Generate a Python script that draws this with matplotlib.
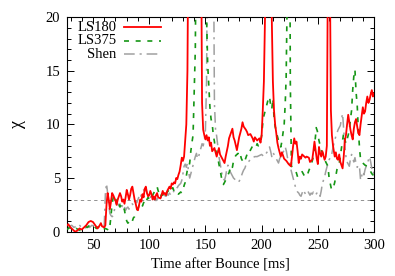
import matplotlib
matplotlib.use("Agg")
import matplotlib.pyplot as plt
from matplotlib.ticker import MultipleLocator

# ---------------- data ----------------
ls180_t = [27, 28, 30, 32, 34, 36, 38, 40, 42, 44, 46, 48, 50, 52, 54, 56, 57, 58, 60, 61,
           62, 63, 64, 65, 66, 67, 68, 70, 71, 72, 74, 75, 76, 77, 78, 79, 80, 81, 82, 83,
           84, 85, 86, 87, 88, 89, 90, 91, 92, 93, 94, 95, 96, 97, 98, 99, 100, 101, 102, 103,
           104, 105, 106, 107, 108, 110, 111, 112, 113, 114, 115, 116, 117, 118, 119, 120, 121, 122, 123, 124,
           125, 126, 127, 128, 129, 130, 131, 132, 133, 134, 135, 146, 147, 148, 149, 150, 151, 152, 153, 154,
           155, 156, 158, 160, 162, 163, 165, 167, 168, 170, 171, 172, 174, 175, 176, 178, 179, 180, 182, 183,
           184, 186, 187, 188, 190, 192, 193, 194, 196, 198, 199, 200, 201, 202, 203, 204, 208, 209, 210, 211,
           212, 213, 214, 215, 217, 218, 220, 222, 224, 226, 227, 228, 229, 230, 231, 232, 233, 234, 235, 236,
           238, 239, 240, 242, 243, 245, 246, 247, 248, 249, 250, 251, 252, 253, 254, 256, 257, 258, 258.7, 259.3,
           260.3, 261, 261.6, 262.5, 263.5, 265, 266, 267, 268, 269, 270, 271, 272, 273, 274, 275, 276, 277, 278, 279,
           280, 281, 282, 283, 284, 285, 286, 287, 288, 289, 290, 291, 292, 293, 294, 295, 296, 297, 298, 299, 300]
ls180_v = [0.6, 0.7, 0.4, 0.2, 0.0, 0.1, 0.3, 0.2, 0.4, 0.6, 0.9, 1.0, 0.9, 0.6, 0.3, 0.6, 0.8, 0.5, 0.4, 0.6,
           2.5, 3.6, 3.0, 2.1, 2.8, 3.6, 3.4, 2.9, 2.5, 3.0, 3.6, 3.3, 2.8, 3.0, 2.6, 3.2, 3.9, 3.5, 3.0, 3.4,
           4.0, 4.2, 3.6, 3.0, 2.6, 2.1, 2.0, 2.5, 3.0, 2.8, 3.5, 3.2, 4.0, 4.2, 3.6, 3.3, 3.4, 3.8, 3.5, 3.0,
           3.3, 3.0, 3.4, 3.6, 3.2, 3.1, 3.4, 3.8, 3.5, 3.6, 3.4, 3.8, 4.0, 4.2, 4.0, 4.5, 4.4, 4.6, 4.5, 5.0,
           4.9, 5.3, 5.6, 6.2, 6.9, 6.6, 7.0, 8.5, 10.0, 15, 30, 30, 12, 9.5, 9.0, 8.6, 9.0, 8.5, 8.8, 8.0,
           8.3, 7.5, 7.8, 7.0, 7.8, 7.2, 6.8, 6.4, 7.0, 8.0, 8.7, 9.0, 9.6, 8.8, 8.5, 7.6, 8.2, 8.8, 9.6, 10.2,
           9.8, 9.5, 9.3, 9.0, 9.1, 8.7, 8.4, 8.8, 8.5, 8.7, 8.3, 9.0, 11.3, 14, 20, 35, 35, 20, 14, 11.3,
           10.0, 9.2, 8.3, 7.8, 7.0, 7.4, 6.8, 6.6, 6.3, 6.1, 7.0, 8.0, 8.7, 8.2, 8.4, 7.5, 6.4, 7.0, 6.8, 7.2,
           7.0, 6.9, 7.0, 6.9, 6.5, 6.7, 7.5, 8.4, 7.6, 6.8, 6.3, 7.9, 7.3, 7.0, 7.5, 6.7, 7.0, 8.0, 20, 40,
           40, 20, 11.3, 9.0, 8.0, 7.0, 7.4, 6.8, 6.7, 7.2, 6.5, 6.2, 5.9, 7.0, 8.5, 9.0, 10.0, 10.9, 10.2, 9.5,
           9.0, 8.6, 9.6, 10.2, 10.5, 9.8, 9.2, 9.0, 10.0, 10.8, 11.6, 11.0, 11.2, 12.0, 12.6, 12.0, 12.3, 12.8, 13.2, 12.6, 12.9]

ls375_t = [27, 29, 31, 33, 35, 37, 39, 41, 43, 45, 47, 49, 51, 53, 55, 57, 59, 61, 63, 64,
           65, 66, 67, 68, 69, 70, 71, 72, 73, 74, 75, 76, 77, 78, 79, 80, 81, 82, 83, 84,
           85, 86, 87, 88, 89, 90, 91, 92, 93, 94, 95, 96, 97, 98, 99, 100, 101, 102, 103, 104,
           105, 106, 107, 108, 109, 110, 111, 112, 113, 114, 115, 116, 117, 118, 119, 120, 121, 122, 123, 124,
           125, 126, 127, 128, 129, 130, 131, 132, 133, 134, 135, 136, 137, 138, 139, 140, 141, 142, 150, 151,
           152, 153, 154, 155, 156, 157, 158, 159, 160, 161, 162, 163, 164, 165, 166, 167, 168, 169, 170, 171,
           172, 173, 174, 175, 176, 177, 178, 179, 180, 181, 182, 183, 184, 185, 186, 187, 188, 189, 190, 191,
           192, 193, 194, 195, 196, 197, 198, 199, 200, 201, 202, 203, 204, 205, 206, 207, 208, 209, 210, 211,
           212, 213, 214, 215, 216, 217, 218, 219, 220, 221, 221.8, 222.5, 223, 225, 225.5, 226, 226.5, 228, 230, 232,
           234, 236, 238, 240, 242, 244, 246, 247, 248, 248.5, 249.5, 251, 253, 255, 257, 259, 260, 261, 262, 263,
           264, 265, 266, 267, 268, 269, 270, 271, 272, 273, 274, 275, 276, 277, 278, 279, 280, 281, 282, 283,
           284, 285, 286, 287, 288, 290, 292, 294, 296, 298, 300]
ls375_v = [0.2, 0.4, 0.2, 0.1, 0.3, 0.2, 0.1, 0.3, 0.5, 0.4, 0.6, 0.7, 0.5, 0.3, 0.5, 0.3, 0.2, 0.3, 0.2, 0.1,
           0.5, 1.5, 2.6, 3.2, 3.4, 3.0, 2.8, 3.1, 2.7, 2.3, 2.5, 2.6, 2.3, 2.0, 1.4, 1.0, 0.8, 0.9, 1.1, 1.2,
           1.0, 1.3, 1.4, 1.6, 2.0, 2.2, 2.4, 2.3, 2.6, 2.4, 2.7, 2.8, 2.6, 3.0, 3.2, 3.0, 3.3, 3.2, 3.4, 3.6,
           3.8, 4.0, 4.2, 3.8, 3.5, 3.2, 3.5, 3.4, 3.6, 3.3, 3.5, 3.7, 3.8, 3.6, 3.9, 4.0, 4.1, 3.8, 3.7, 3.6,
           3.7, 3.5, 3.6, 3.7, 3.6, 3.8, 4.3, 4.6, 5.2, 5.8, 6.0, 6.4, 7.5, 8.3, 9.0, 12.9, 17, 30, 30, 20,
           15.6, 13.5, 11.6, 10.5, 10.1, 9.0, 8.4, 7.6, 7.3, 6.9, 6.3, 5.8, 5.2, 4.6, 4.4, 4.6, 4.8, 5.0, 5.3, 5.5,
           5.9, 6.2, 6.0, 6.6, 6.9, 7.1, 7.2, 7.3, 7.0, 7.2, 6.8, 6.6, 6.4, 6.6, 6.9, 7.2, 7.4, 7.3, 7.6, 7.8,
           8.0, 8.1, 8.0, 7.9, 8.2, 8.0, 8.1, 8.2, 9.0, 10.1, 10.8, 11.2, 11.6, 12.0, 12.4, 12.6, 11.8, 11.4, 12.4, 10.7,
           9.8, 9.4, 8.9, 8.5, 8.2, 7.9, 8.4, 9.2, 9.9, 12, 14.4, 20, 30, 30, 14, 9.9, 6.1, 6.0, 5.8, 5.1,
           5.3, 5.6, 5.2, 5.1, 5.7, 6.2, 7.0, 7.9, 9.0, 9.7, 9.4, 8.5, 7.6, 7.2, 6.5, 6.1, 5.0, 4.5, 4.0, 3.9,
           4.2, 4.6, 5.2, 5.8, 6.1, 6.4, 7.0, 7.8, 8.5, 9.2, 8.6, 8.2, 8.6, 9.0, 9.5, 10.5, 11.3, 13.2, 14.5, 15.1,
           13.0, 11.8, 9.5, 7.9, 6.7, 6.4, 6.2, 6.1, 5.8, 5.4, 5.2]

shen_t = [27, 29, 31, 33, 35, 37, 39, 41, 43, 45, 47, 49, 51, 53, 55, 57, 59, 60, 61, 62,
          63, 64, 65, 66, 67, 68, 69, 70, 71, 72, 73, 74, 75, 76, 77, 78, 79, 80, 81, 82,
          83, 84, 85, 86, 87, 88, 89, 90, 91, 92, 93, 94, 95, 96, 97, 98, 99, 100, 101, 102,
          103, 104, 105, 106, 107, 108, 109, 110, 111, 112, 113, 114, 115, 116, 117, 118, 119, 120, 121, 122,
          123, 124, 125, 126, 127, 128, 129, 130, 131, 132, 133, 134, 135, 136, 137, 138, 139, 140, 141, 142,
          143, 144, 145, 146, 147, 148, 149, 150, 151, 152, 157, 158, 159, 160, 161, 162, 163, 164, 165, 166,
          167, 168, 169, 170, 171, 172, 173, 174, 175, 176, 177, 178, 179, 180, 181, 182, 183, 184, 185, 186,
          187, 188, 189, 190, 192, 194, 196, 198, 200, 202, 204, 206, 207, 208, 209, 210, 211, 212, 213, 214,
          215, 216, 218, 220, 221, 222, 223, 224, 225, 226, 227, 228, 229, 230, 231, 232, 233, 234, 235, 236,
          237, 238, 239, 240, 241, 242, 243, 244, 245, 246, 247, 248, 249, 250, 251, 252, 253, 254, 255, 256,
          257, 258, 259, 260, 261, 262, 263, 264, 265, 266, 267, 268, 269, 270, 271, 272, 273, 274, 275, 276,
          277, 278, 279, 280, 281, 282, 283, 284, 285, 286, 287, 288, 289, 290, 291, 292, 293, 294, 295, 296,
          297, 298, 299, 300]
shen_v = [0.3, 0.5, 0.6, 0.4, 0.5, 0.7, 0.5, 0.4, 0.3, 0.5, 0.4, 0.6, 0.5, 0.3, 0.4, 0.6, 0.5, 0.6, 3.5, 4.5,
          3.6, 2.5, 1.7, 1.5, 1.4, 1.5, 2.0, 2.5, 2.8, 2.6, 2.4, 2.6, 2.2, 2.4, 2.6, 2.3, 2.0, 2.2, 2.3, 2.1,
          2.3, 2.5, 2.6, 2.4, 2.8, 2.9, 2.7, 3.0, 3.3, 3.1, 3.5, 3.7, 3.9, 3.8, 4.0, 3.6, 3.4, 3.5, 3.2, 3.4,
          3.3, 3.0, 3.2, 2.9, 3.1, 3.0, 3.2, 3.1, 3.4, 3.3, 3.2, 3.4, 3.3, 3.5, 3.4, 3.6, 3.5, 3.7, 3.6, 3.8,
          4.0, 4.2, 4.1, 4.3, 4.4, 4.5, 4.8, 5.4, 6.1, 6.3, 6.0, 6.4, 5.6, 5.0, 5.4, 5.8, 6.2, 6.6, 7.0, 7.3,
          6.8, 7.0, 7.5, 7.8, 8.2, 8.0, 8.5, 9.5, 14, 30, 30, 12, 9.5, 8.9, 8.0, 7.0, 6.4, 5.75, 5.2, 4.9,
          4.8, 5.2, 5.8, 6.2, 5.9, 5.6, 5.4, 5.2, 5.0, 4.9, 4.8, 4.9, 4.8, 4.7, 4.9, 5.2, 5.5, 5.75, 5.9, 6.2,
          6.3, 6.5, 6.6, 6.8, 6.9, 7.0, 7.0, 7.1, 7.2, 7.0, 7.3, 7.6, 7.9, 7.5, 7.0, 7.4, 7.2, 7.0, 6.8, 6.6,
          6.4, 6.8, 7.2, 7.6, 7.9, 7.5, 6.9, 6.5, 6.2, 5.8, 5.4, 5.0, 4.6, 4.2, 3.9, 3.7, 3.6, 3.4, 3.3, 3.6,
          3.9, 3.7, 3.5, 3.6, 3.8, 3.6, 3.4, 3.6, 3.5, 3.7, 3.6, 3.4, 3.6, 3.5, 3.6, 3.3, 3.8, 4.5, 4.8, 5.1,
          5.6, 6.0, 6.4, 6.7, 6.9, 7.0, 7.6, 8.1, 8.5, 8.9, 9.2, 9.5, 9.7, 9.9, 10.5, 11.0, 9.5, 8.0, 7.0, 6.5,
          6.3, 6.1, 6.8, 7.2, 6.8, 6.5, 6.9, 6.3, 6.0, 6.2, 6.1, 4.8, 5.2, 5.6, 5.3, 5.8, 6.1, 6.3, 6.7, 7.0,
          6.5, 5.9, 5.4, 5.6]

labels = ["LS180", "LS375", "Shen"]
threshold = 3.0

# ---------------- figure ----------------
plt.rcParams['font.family'] = ['Liberation Serif', 'DejaVu Serif']
plt.rcParams['font.size'] = 10.5

fig = plt.figure(figsize=(3.95, 2.76), dpi=100)
ax = fig.add_axes([0.170, 0.1605, 0.777, 0.7775])

colors = ['#ff0000', '#159615', '#a0a0a0']
widths = [1.3, 1.2, 1.1]
dash_patterns = [None, (3.0, 4.0), (7, 3.2, 1.4, 3.2)]
zorders = [4, 3, 2]

ax.axhline(threshold, color='#808080', lw=0.6, dashes=(4, 4), zorder=1)
series = [(ls180_t, ls180_v), (ls375_t, ls375_v), (shen_t, shen_v)]
for (t, v), c, w, d, z in zip(series, colors, widths, dash_patterns, zorders):
    kw = {} if d is None else {'dashes': d}
    ax.plot(t, v, color=c, lw=w, zorder=z, **kw)

ax.set_xlim(27, 300)
ax.set_ylim(0, 20)
ax.xaxis.set_major_locator(MultipleLocator(50))
ax.xaxis.set_minor_locator(MultipleLocator(10))
ax.yaxis.set_major_locator(MultipleLocator(5))
ax.yaxis.set_minor_locator(MultipleLocator(1))
ax.tick_params(which='both', direction='in', top=True, right=True, width=0.7)
ax.tick_params(which='major', length=5, pad=5)
ax.tick_params(which='minor', length=2.8)
for s in ax.spines.values():
    s.set_linewidth(0.8)

ax.set_xlabel("Time after Bounce [ms]", labelpad=5)
ax.set_ylabel("χ", labelpad=14, fontsize=13)

# legend (gnuplot style: right-aligned text, sample on the right)
rows_y = [0.953, 0.891, 0.828]
for lab, yy, c, w, d in zip(labels, rows_y, colors, widths, dash_patterns):
    ax.text(0.161, yy, lab, transform=ax.transAxes, ha='right', va='center', fontsize=10.5)
    kw = {} if d is None else {'dashes': d}
    ax.plot([0.185, 0.305], [yy, yy], transform=ax.transAxes, color=c, lw=w,
            clip_on=False, **kw)

fig.savefig("out.png", dpi=100)
